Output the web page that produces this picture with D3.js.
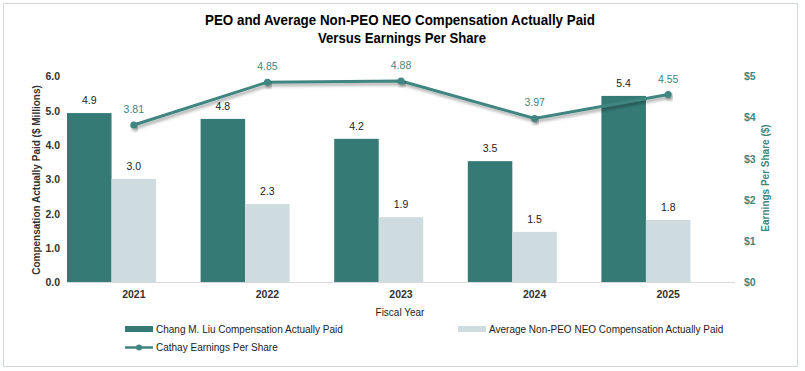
<!DOCTYPE html>
<html><head><meta charset="utf-8">
<script src="https://cdn.jsdelivr.net/npm/d3@7"></script>
<style>body{margin:0;background:#fff}svg{display:block}</style>
</head><body><svg id="c" width="805" height="371"></svg>
<script>
const years = ["2021","2022","2023","2024","2025"];
const peoPaid = [4.92, 4.75, 4.17, 3.52, 5.42];
const neoPaid = [3.0, 2.27, 1.89, 1.46, 1.81];
const eps = [3.81, 4.85, 4.88, 3.97, 4.55];
const leftTicks = [0,1,2,3,4,5,6];
const rightTicks = [0,1,2,3,4,5];
const dark = "#367a76", light = "#cfdcdf", teal = "#3f8580";
const F = "Arial, 'Liberation Sans', sans-serif";
const FN = "'Liberation Sans Narrow', 'Arial Narrow', Arial, sans-serif";

const svg = d3.select("#c");
svg.append("rect").attr("x",3.5).attr("y",3.5).attr("width",794).attr("height",363)
  .attr("fill","#fff").attr("stroke","#d3d9d9");

const defs = svg.append("defs");
const f = defs.append("filter").attr("id","sh").attr("x","-10%").attr("y","-50%").attr("width","120%").attr("height","200%");
f.append("feDropShadow").attr("dx",1.5).attr("dy",2.5).attr("stdDeviation",1.5).attr("flood-color","#000").attr("flood-opacity",0.35);

const x = d3.scaleBand().domain(years).range([67,735]).padding(0);
const y = d3.scaleLinear().domain([0,6]).range([282,76]);
const y2 = d3.scaleLinear().domain([0,5]).range([282,76]);
const sub = d3.scaleBand().domain(["peo","neo","eps"]).range([0,x.bandwidth()]).padding(0);

// title
svg.append("text").attr("x",400).attr("y",25).attr("text-anchor","middle")
  .attr("font-family",FN).attr("font-weight","bold").attr("font-size",15.5)
  .attr("textLength",390).attr("lengthAdjust","spacingAndGlyphs")
  .text("PEO and Average Non-PEO NEO Compensation Actually Paid");
svg.append("text").attr("x",402).attr("y",43).attr("text-anchor","middle")
  .attr("font-family",FN).attr("font-weight","bold").attr("font-size",15.5)
  .attr("textLength",168).attr("lengthAdjust","spacingAndGlyphs")
  .text("Versus Earnings Per Share");

// bars
const g = svg.append("g");
years.forEach((yr,i)=>{
  const bx = x(yr);
  g.append("rect").attr("x",bx+sub("peo")).attr("y",y(peoPaid[i])).attr("width",sub.bandwidth()).attr("height",y(0)-y(peoPaid[i])).attr("fill",dark);
  g.append("rect").attr("x",bx+sub("neo")).attr("y",y(neoPaid[i])).attr("width",sub.bandwidth()).attr("height",y(0)-y(neoPaid[i])).attr("fill",light);
  g.append("text").attr("x",bx+sub("peo")+sub.bandwidth()/2).attr("y",y(peoPaid[i])-9).attr("text-anchor","middle")
    .attr("font-family",F).attr("font-size",10.5).attr("fill","#222").text(d3.format(".1f")(peoPaid[i]));
  g.append("text").attr("x",bx+sub("neo")+sub.bandwidth()/2).attr("y",y(neoPaid[i])-9).attr("text-anchor","middle")
    .attr("font-family",F).attr("font-size",10.5).attr("fill","#222").text(d3.format(".1f")(neoPaid[i]));
});

// baseline
svg.append("line").attr("x1",67).attr("x2",735).attr("y1",282.5).attr("y2",282.5).attr("stroke","#d9d9d9").attr("stroke-width",1);

// left axis
const la = svg.append("g").attr("transform","translate(60,0)")
  .call(d3.axisLeft(y).tickValues(leftTicks).tickFormat(d3.format(".1f")).tickSize(0).tickPadding(0));
la.select(".domain").remove();
la.selectAll("text").attr("font-family",F).attr("font-weight","bold").attr("font-size",10.5).attr("fill","#333").attr("dy","0.35em");

// right axis
const ra = svg.append("g").attr("transform","translate(744,0)")
  .call(d3.axisRight(y2).tickValues(rightTicks).tickFormat(d=>"$"+d).tickSize(0).tickPadding(0));
ra.select(".domain").remove();
ra.selectAll("text").attr("font-family",F).attr("font-weight","bold").attr("font-size",10.5).attr("fill",teal).attr("dy","0.35em");

// x axis labels
const xa = svg.append("g").attr("transform","translate(0,291)")
  .call(d3.axisBottom(x).tickSize(0).tickPadding(0));
xa.select(".domain").remove();
xa.selectAll("text").attr("font-family",F).attr("font-weight","bold").attr("font-size",10.5).attr("fill","#333").attr("dy","0.71em");

// axis titles
svg.append("text").attr("transform","translate(40,180) rotate(-90)").attr("text-anchor","middle")
  .attr("font-family",F).attr("font-weight","bold").attr("font-size",10).attr("fill","#333").text("Compensation Actually Paid ($ Millions)");
svg.append("text").attr("transform","translate(769,178) rotate(-90)").attr("text-anchor","middle")
  .attr("font-family",F).attr("font-weight","bold").attr("font-size",10).attr("fill",teal).text("Earnings Per Share ($)");
svg.append("text").attr("x",400).attr("y",316).attr("text-anchor","middle")
  .attr("font-family",F).attr("font-size",10).attr("fill","#222").text("Fiscal Year");

// EPS line
const cx = d => x(d)+x.bandwidth()/2;
const line = d3.line().x((d,i)=>cx(years[i])).y(d=>y2(d));
svg.append("path").datum(eps).attr("d",line).attr("fill","none").attr("stroke",teal).attr("stroke-width",3).attr("filter","url(#sh)");
svg.selectAll(".pt").data(eps).enter().append("circle").attr("cx",(d,i)=>cx(years[i])).attr("cy",d=>y2(d)).attr("r",3.5).attr("fill",teal).attr("filter","url(#sh)");
svg.selectAll(".el").data(eps).enter().append("text").attr("x",(d,i)=>cx(years[i])).attr("y",d=>y2(d)-12)
  .attr("text-anchor","middle").attr("font-family",F).attr("font-size",10.5).attr("fill",teal).text(d=>d3.format(".2f")(d));

// legend
const lg = svg.append("g").attr("font-family",F).attr("font-size",10).attr("fill","#222");
lg.append("rect").attr("x",125).attr("y",326).attr("width",28).attr("height",6).attr("fill",dark);
lg.append("text").attr("x",156).attr("y",332.5).text("Chang M. Liu Compensation Actually Paid");
lg.append("rect").attr("x",458).attr("y",326).attr("width",28).attr("height",6).attr("fill",light);
lg.append("text").attr("x",489).attr("y",332.5).text("Average Non-PEO NEO Compensation Actually Paid");
lg.append("line").attr("x1",125).attr("x2",153).attr("y1",347.5).attr("y2",347.5).attr("stroke",teal).attr("stroke-width",2.5);
lg.append("circle").attr("cx",139).attr("cy",347.5).attr("r",3).attr("fill",teal);
lg.append("text").attr("x",156).attr("y",351).text("Cathay Earnings Per Share");
</script></body></html>
